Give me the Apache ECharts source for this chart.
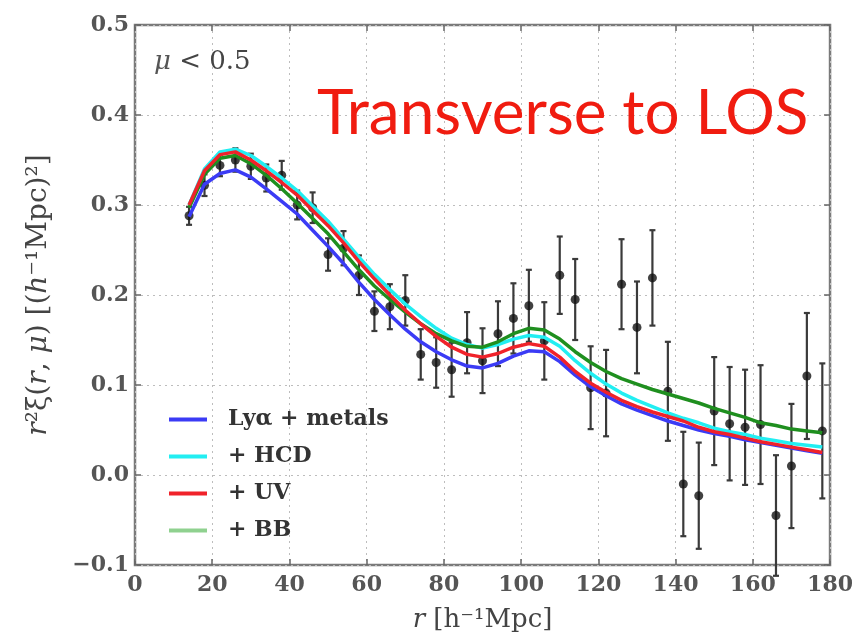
<!DOCTYPE html>
<html>
<head>
<meta charset="utf-8">
<script src="https://cdn.jsdelivr.net/npm/echarts@6/dist/echarts.min.js"></script>
<style>
  html, body { margin: 0; padding: 0; background: #ffffff; }
  #chart { width: 856px; height: 641px; }
</style>
</head>
<body>
<div id="chart"></div>
<script>
// Separation bins r [h^-1 Mpc]
const separations = [14, 18, 22, 26, 30, 34, 38, 42, 46, 50, 54, 58, 62, 66, 70, 74, 78, 82, 86, 90, 94,
  98, 102, 106, 110, 114, 118, 122, 126, 130, 134, 138, 142, 146, 150, 154, 158, 162, 166, 170, 174, 178];

// Measured r^2 xi(r, mu) for mu < 0.5, with 1-sigma errors
const xiData = [0.288, 0.322, 0.344, 0.350, 0.343, 0.330, 0.333, 0.300, 0.297, 0.245, 0.252, 0.222, 0.182,
  0.187, 0.194, 0.134, 0.125, 0.117, 0.147, 0.127, 0.157, 0.174, 0.188, 0.149, 0.222, 0.195, 0.097, 0.091,
  0.212, 0.164, 0.219, 0.093, -0.010, -0.023, 0.071, 0.057, 0.053, 0.056, -0.045, 0.010, 0.110, 0.049];
const xiError = [0.010, 0.012, 0.012, 0.013, 0.014, 0.015, 0.016, 0.016, 0.017, 0.018, 0.019, 0.022, 0.022,
  0.025, 0.028, 0.028, 0.028, 0.030, 0.034, 0.036, 0.036, 0.039, 0.040, 0.043, 0.043, 0.045, 0.046, 0.048,
  0.050, 0.051, 0.053, 0.055, 0.058, 0.059, 0.060, 0.063, 0.064, 0.066, 0.067, 0.069, 0.070, 0.075];

// Model curves evaluated on the same bins
const modelLyaMetals = [0.287, 0.323, 0.335, 0.339, 0.331, 0.318, 0.304, 0.290, 0.272, 0.254, 0.235, 0.214,
  0.195, 0.178, 0.162, 0.148, 0.137, 0.128, 0.121, 0.119, 0.124, 0.132, 0.138, 0.137, 0.126, 0.111, 0.098,
  0.088, 0.079, 0.072, 0.066, 0.060, 0.055, 0.050, 0.046, 0.043, 0.039, 0.036, 0.033, 0.030, 0.027, 0.024];
const modelHCD = [0.300, 0.340, 0.359, 0.362, 0.355, 0.343, 0.330, 0.316, 0.299, 0.282, 0.262, 0.242, 0.223,
  0.206, 0.190, 0.176, 0.163, 0.152, 0.145, 0.141, 0.145, 0.151, 0.155, 0.153, 0.143, 0.127, 0.113, 0.101,
  0.091, 0.083, 0.076, 0.069, 0.063, 0.058, 0.052, 0.048, 0.045, 0.041, 0.038, 0.035, 0.033, 0.031];
const modelUV = [0.300, 0.338, 0.356, 0.359, 0.350, 0.338, 0.325, 0.311, 0.294, 0.277, 0.258, 0.237, 0.218,
  0.200, 0.183, 0.168, 0.154, 0.142, 0.134, 0.131, 0.135, 0.142, 0.146, 0.143, 0.131, 0.115, 0.102, 0.092,
  0.083, 0.076, 0.070, 0.065, 0.060, 0.053, 0.048, 0.045, 0.041, 0.037, 0.034, 0.031, 0.028, 0.025];
const modelBB = [0.297, 0.334, 0.352, 0.355, 0.346, 0.333, 0.318, 0.302, 0.285, 0.268, 0.248, 0.228, 0.210,
  0.195, 0.181, 0.168, 0.157, 0.149, 0.143, 0.142, 0.148, 0.157, 0.163, 0.161, 0.151, 0.137, 0.125, 0.115,
  0.107, 0.101, 0.095, 0.090, 0.085, 0.080, 0.074, 0.069, 0.064, 0.058, 0.055, 0.051, 0.049, 0.047];

// Axis ranges and tick steps
const xTickRange = [0, 180, 20];
const yTickRange = [-0.1, 0.5, 0.1];

const serif = 'DejaVu Serif';
const pair = (ys) => separations.map((r, i) => [r, ys[i]]);

const chart = echarts.init(document.getElementById('chart'), null, { renderer: 'canvas' });

const gridLine = { show: true, lineStyle: { color: '#bdbdbd', width: 1, type: [2, 4] } };
const tick = { show: true, inside: true, length: 6, lineStyle: { color: '#666', width: 1.5 } };
const hiddenLine = { show: false, onZero: false };

const modelSeries = (name, ys, color, z) => ({
  name: name,
  type: 'line',
  data: pair(ys),
  showSymbol: false,
  symbol: 'none',
  lineStyle: { color: color, width: 3.5 },
  itemStyle: { color: color },
  z: z,
  silent: true,
  animation: false
});

const nameStyle = (size) => ({
  fontFamily: serif, fontSize: size, color: '#444',
  rich: { i: { fontFamily: serif, fontSize: size, fontStyle: 'italic', color: '#444' } }
});

// Mirrored tick marks on the top and right edges of the frame
const mirrorAxis = (position, range) => ({
  type: 'value',
  position: position,
  min: range[0], max: range[1], interval: range[2],
  axisLine: hiddenLine,
  axisTick: tick,
  axisLabel: { show: false },
  splitLine: { show: false }
});

chart.setOption({
  animation: false,
  backgroundColor: '#ffffff',
  grid: {
    left: 135, right: 23.5, top: 25, bottom: 76,
    show: true, borderColor: '#7a7a7a', borderWidth: 2.5, backgroundColor: 'transparent'
  },
  xAxis: [
    {
      type: 'value',
      position: 'bottom',
      min: xTickRange[0], max: xTickRange[1], interval: xTickRange[2],
      axisLine: hiddenLine,
      axisTick: tick,
      splitLine: gridLine,
      axisLabel: { fontFamily: serif, fontSize: 22, fontWeight: 'bold', color: '#555', margin: 9 },
      name: '{i|r} [h⁻¹Mpc]',
      nameLocation: 'middle',
      nameGap: 42,
      nameTextStyle: nameStyle(26)
    },
    mirrorAxis('top', xTickRange)
  ],
  yAxis: [
    {
      type: 'value',
      position: 'left',
      min: yTickRange[0], max: yTickRange[1], interval: yTickRange[2],
      axisLine: hiddenLine,
      axisTick: tick,
      splitLine: gridLine,
      axisLabel: {
        fontFamily: serif, fontSize: 22, fontWeight: 'bold', color: '#555', margin: 6,
        formatter: (v) => (v < -1e-9 ? '\u2212' + Math.abs(v).toFixed(1) : Math.abs(v).toFixed(1))
      },
      name: '{i|r}²ξ({i|r}, {i|μ}) [({i|h}⁻¹Mpc)²]',
      nameLocation: 'middle',
      nameRotate: 90,
      nameGap: 82,
      nameTextStyle: nameStyle(28)
    },
    mirrorAxis('right', yTickRange)
  ],
  legend: {
    orient: 'vertical',
    left: 164,
    top: 403,
    icon: 'rect',
    itemWidth: 38,
    itemHeight: 4,
    itemGap: 14,
    textStyle: { fontFamily: serif, fontSize: 22, fontWeight: 'bold', color: '#333', lineHeight: 23, padding: [0, 0, 0, 16] },
    data: [
      { name: 'Lyα + metals' },
      { name: '+ HCD' },
      { name: '+ UV' },
      { name: '+ BB', itemStyle: { color: '#8fd18f' } }
    ]
  },
  graphic: [
    {
      type: 'text',
      left: 154, top: 49,
      style: {
        text: '{m|μ} < 0.5',
        fontFamily: serif, fontSize: 26, fill: '#444',
        rich: { m: { fontFamily: serif, fontSize: 26, fontStyle: 'italic', fill: '#555' } }
      },
      z: 10
    },
    {
      type: 'text',
      left: 317, top: 83,
      style: { text: 'Transverse to LOS', fontFamily: 'Lato', fontSize: 62, fill: '#f01c10' },
      z: 10
    }
  ],
  series: [
    {
      name: 'errors',
      type: 'custom',
      data: separations.map((r, i) => [r, xiData[i] - xiError[i], xiData[i] + xiError[i]]),
      encode: { x: 0, y: [1, 2] },
      renderItem: function (params, api) {
        const r = api.value(0);
        const lo = api.coord([r, api.value(1)]);
        const hi = api.coord([r, api.value(2)]);
        const style = { stroke: '#3a3a3a', lineWidth: 2.2 };
        const cap = 3;
        return {
          type: 'group',
          children: [
            { type: 'line', shape: { x1: lo[0], y1: lo[1], x2: hi[0], y2: hi[1] }, style: style },
            { type: 'line', shape: { x1: lo[0] - cap, y1: lo[1], x2: lo[0] + cap, y2: lo[1] }, style: style },
            { type: 'line', shape: { x1: hi[0] - cap, y1: hi[1], x2: hi[0] + cap, y2: hi[1] }, style: style }
          ]
        };
      },
      z: 2,
      silent: true
    },
    {
      name: 'data',
      type: 'scatter',
      data: pair(xiData),
      symbol: 'circle',
      symbolSize: 9,
      itemStyle: { color: '#111111' },
      z: 3,
      silent: true
    },
    modelSeries('Lyα + metals', modelLyaMetals, '#3b3bf5', 4),
    modelSeries('+ HCD', modelHCD, '#22eef2', 5),
    modelSeries('+ BB', modelBB, '#1f8f1f', 6),
    modelSeries('+ UV', modelUV, '#f0222a', 7)
  ]
});
</script>
</body>
</html>
